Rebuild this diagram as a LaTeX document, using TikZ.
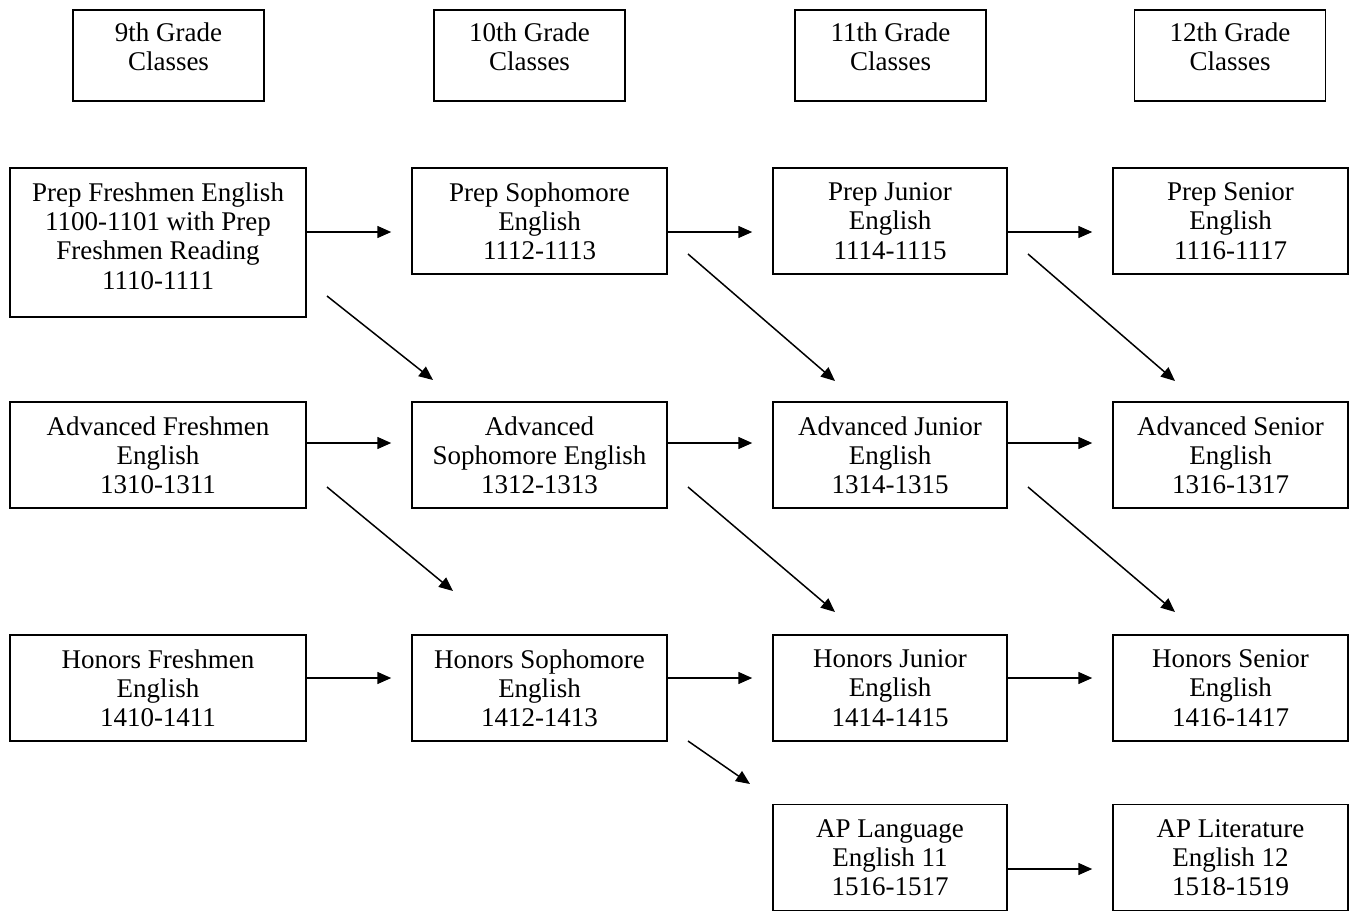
\documentclass[tikz,border=0pt]{standalone}
\usepackage{fontspec}
\setmainfont{Liberation Serif}
\usetikzlibrary{arrows.meta,calc}
\begin{document}
\begin{tikzpicture}[x=0.5pt,y=-0.5pt,
  font=\fontsize{13.5pt}{14.6pt}\selectfont,
  box/.style={draw,line width=0.75pt,align=center,inner sep=0pt,minimum height=53pt},
  hbox/.style={draw,line width=0.75pt,inner sep=0pt,minimum width=95.5pt,minimum height=45.5pt},
  txt/.style={align=center,inner sep=0pt},
  c1/.style={box,minimum width=148pt},
  c2/.style={box,minimum width=127.5pt},
  c3/.style={box,minimum width=117pt},
  c4/.style={box,minimum width=117.5pt},
  arr/.style={-{Triangle[length=7pt,width=6pt]},line width=0.75pt}]
\useasboundingbox (0,0) rectangle (1351,911);
% headers
\node[hbox] (h9) at (168.5,55.5) {};
\node[hbox] (h10) at (529.5,55.5) {};
\node[hbox] (h11) at (890.5,55.5) {};
\node[hbox] (h12) at (1230,55.5) {};
\node[txt] (h9t) at ($(h9.center)+(0,-8.5)$) {9th Grade\\Classes};
\node[txt] (h10t) at ($(h10.center)+(0,-8.5)$) {10th Grade\\Classes};
\node[txt] (h11t) at ($(h11.center)+(0,-8.5)$) {11th Grade\\Classes};
\node[txt] (h12t) at ($(h12.center)+(0,-8.5)$) {12th Grade\\Classes};
% row 1
\node[c1,minimum height=74.5pt] (pf) at (158,242.5) {};
\node[txt] (pft) at ($(pf.center)+(0,-6.5)$) {Prep Freshmen English\\1100-1101 with Prep\\Freshmen Reading\\1110-1111};
\node[c2] (ps) at (539.5,221) {Prep Sophomore\\English\\1112-1113};
\node[c3] (pj) at (890,221) {Prep Junior\\English\\1114-1115};
\node[c4] (pn) at (1230.5,221) {Prep Senior\\English\\1116-1117};
% row 2
\node[c1] (af) at (158,455) {Advanced Freshmen\\English\\1310-1311};
\node[c2] (as) at (539.5,455) {Advanced\\Sophomore English\\1312-1313};
\node[c3] (aj) at (890,455) {Advanced Junior\\English\\1314-1315};
\node[c4] (an) at (1230.5,455) {Advanced Senior\\English\\1316-1317};
% row 3
\node[c1] (hf) at (158,688) {Honors Freshmen\\English\\1410-1411};
\node[c2] (hs) at (539.5,688) {Honors Sophomore\\English\\1412-1413};
\node[c3] (hj) at (890,688) {Honors Junior\\English\\1414-1415};
\node[c4] (hn) at (1230.5,688) {Honors Senior\\English\\1416-1417};
% row 4
\node[c3] (apl) at (890,857.5) {AP Language\\English 11\\1516-1517};
\node[c4] (aplit) at (1230.5,857.5) {AP Literature\\English 12\\1518-1519};
% horizontal arrows
\draw[arr,shorten >=10pt] (pf.east |- 0,232) -- (ps.west |- 0,232);
\draw[arr,shorten >=10pt] (ps.east |- 0,232) -- (pj.west |- 0,232);
\draw[arr,shorten >=10pt] (pj.east |- 0,232) -- (pn.west |- 0,232);
\draw[arr,shorten >=10pt] (af.east |- 0,443) -- (as.west |- 0,443);
\draw[arr,shorten >=10pt] (as.east |- 0,443) -- (aj.west |- 0,443);
\draw[arr,shorten >=10pt] (aj.east |- 0,443) -- (an.west |- 0,443);
\draw[arr,shorten >=10pt] (hf.east |- 0,678) -- (hs.west |- 0,678);
\draw[arr,shorten >=10pt] (hs.east |- 0,678) -- (hj.west |- 0,678);
\draw[arr,shorten >=10pt] (hj.east |- 0,678) -- (hn.west |- 0,678);
\draw[arr,shorten >=10pt] (apl.east |- 0,869) -- (aplit.west |- 0,869);
% diagonal arrows
\coordinate (d1a) at (327,296); \coordinate (d1b) at (433,380);
\coordinate (d2a) at (688,254); \coordinate (d2b) at (835,381);
\coordinate (d3a) at (1028,254); \coordinate (d3b) at (1175,381);
\coordinate (d4a) at (327,487); \coordinate (d4b) at (453,591);
\coordinate (d5a) at (688,487); \coordinate (d5b) at (835,612);
\coordinate (d6a) at (1028,487); \coordinate (d6b) at (1175,612);
\coordinate (d7a) at (688,741); \coordinate (d7b) at (750,784);
\draw[arr] (d1a) -- (d1b);
\draw[arr] (d2a) -- (d2b);
\draw[arr] (d3a) -- (d3b);
\draw[arr] (d4a) -- (d4b);
\draw[arr] (d5a) -- (d5b);
\draw[arr] (d6a) -- (d6b);
\draw[arr] (d7a) -- (d7b);
\end{tikzpicture}
\end{document}
